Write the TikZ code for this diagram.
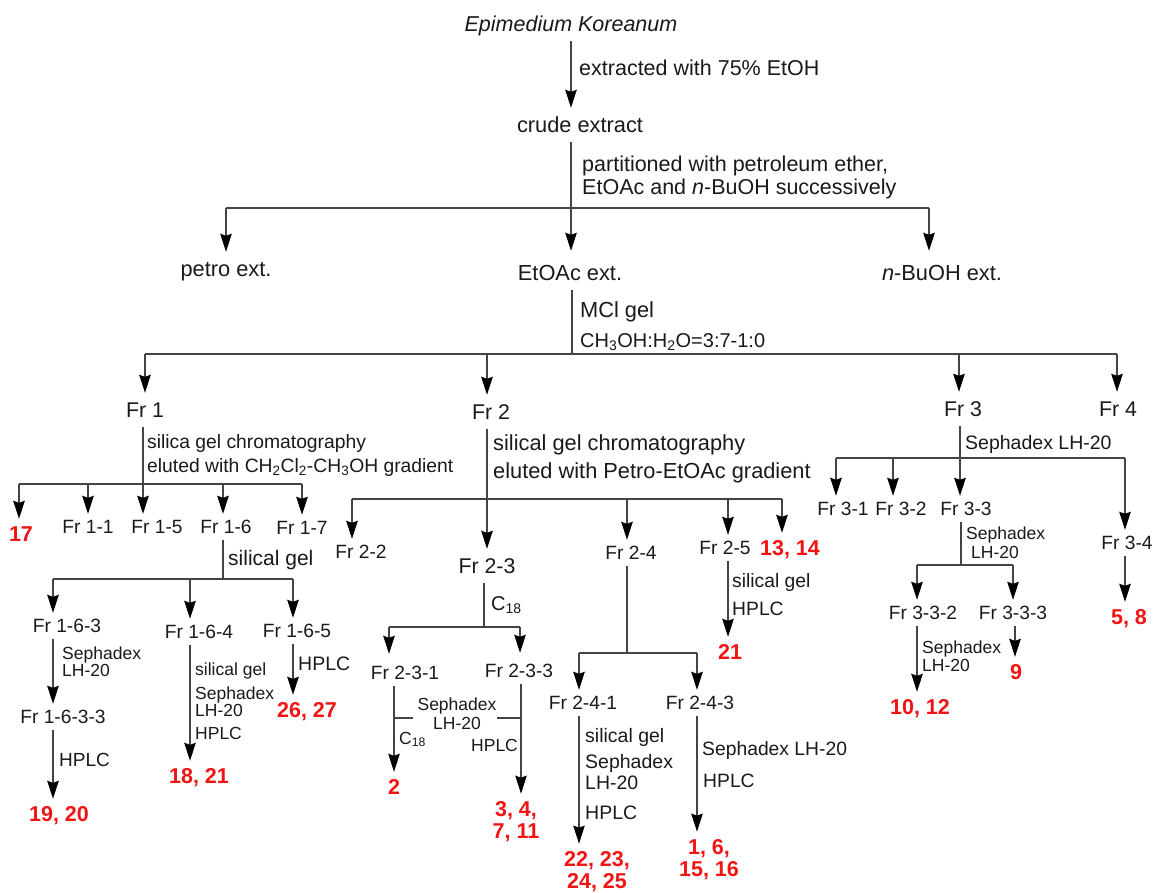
\documentclass[tikz,border=0pt]{standalone}
\usepackage{fontspec}
\setmainfont{Liberation Sans}
\usetikzlibrary{arrows.meta}
\definecolor{cred}{HTML}{F21414}
\definecolor{cline}{HTML}{444444}
\definecolor{ctext}{HTML}{1A1A1A}
\tikzset{
  base/.style={inner sep=0pt, text depth=0pt, text=ctext},
  big/.style={base, font=\fontsize{21.3}{24}\selectfont, text height=15.3pt, minimum height=34pt},
  sub/.style={base, font=\fontsize{19.2}{22}\selectfont, text height=13.8pt, minimum height=26pt},
  res/.style={base, text=cred, font=\bfseries\fontsize{21.5}{22}\selectfont, text height=15.4pt, minimum height=30pt},
  restwo/.style={inner xsep=0pt, inner ysep=8pt, align=center, text=cred, font=\bfseries\fontsize{21.5}{22}\selectfont},
  lab/.style={base, anchor=west, font=\fontsize{19.5}{22}\selectfont, text height=14pt},
  toplab/.style={base, anchor=west, font=\fontsize{21.5}{24}\selectfont, text height=15.4pt},
  wide/.style={base, anchor=west, font=\fontsize{21.8}{24}\selectfont, text height=15.6pt},
  small/.style={base, anchor=west, font=\fontsize{17.5}{20}\selectfont, text height=12.6pt},
  ln/.style={draw=cline, line width=1.3pt},
  arr/.style={ln, -{Stealth[length=18pt, width=11.5pt, inset=2pt, color=black]}},
}
\begin{document}
\begin{tikzpicture}[x=1pt, y=-1pt]
\useasboundingbox[fill=white] (0,0) rectangle (1156,893);

% ---------- top ----------
\node[big, font=\itshape\fontsize{21.5}{24}\selectfont] (epi) at (571,24) {Epimedium Koreanum};
\node[big, font=\fontsize{21.8}{24}\selectfont] (crude) at (580,125) {crude extract};
\node[big, font=\fontsize{21.8}{24}\selectfont] (petro) at (226,269) {petro ext.};
\node[big, font=\fontsize{21.8}{24}\selectfont] (etoac) at (570,273) {EtOAc ext.};
\node[big, font=\fontsize{21.8}{24}\selectfont] (nbuoh) at (942,273) {\textit{n}-BuOH ext.};
\node[toplab] (l1) at (579,68) {extracted with 75\% EtOH};
\node[toplab] (l2a) at (582,164) {partitioned with petroleum ether,};
\node[toplab] (l2b) at (582,187) {EtOAc and \textit{n}-BuOH successively};
\node[wide] (l3a) at (580,310) {MCl gel};
\node[lab, font=\fontsize{20}{22}\selectfont] (l3b) at (580,340) {CH\textsubscript{3}OH:H\textsubscript{2}O=3:7-1:0};

\draw[arr] (epi.south) -- ([xshift=-9pt]crude.north);
\draw[ln] ([xshift=-9pt]crude.south) -- (571,208);
\draw[ln] (226,208) -- (929,208);
\draw[arr] (226,208) -- (petro.north);
\draw[arr] (571,208) -- ([shift={(1,-5)}]etoac.north);
\draw[arr] (929,208) -- ([shift={(-13,-5)}]nbuoh.north);

% ---------- level Fr ----------
\node[big] (fr1) at (145,410) {Fr 1};
\node[big] (fr2) at (491,412) {Fr 2};
\node[big] (fr3) at (963,409) {Fr 3};
\node[big] (fr4) at (1118,409) {Fr 4};
\draw[ln] ([xshift=2pt]etoac.south) -- (572,354);
\draw[ln] (145,354) -- (1117,354);
\draw[arr] (145,354) -- (fr1.north);
\draw[arr] (487,354) -- ([xshift=-4pt]fr2.north);
\draw[arr] (959,354) -- ([xshift=-4pt]fr3.north);
\draw[arr] (1117,354) -- ([xshift=-1pt]fr4.north);

% ---------- Fr 1 ----------
\node[lab, font=\fontsize{19.3}{22}\selectfont] (l4a) at (147,441) {silica gel chromatography};
\node[lab, font=\fontsize{19.3}{22}\selectfont] (l4b) at (147,465) {eluted with CH\textsubscript{2}Cl\textsubscript{2}-CH\textsubscript{3}OH gradient};
\node[res] (c17) at (21,534) {17};
\node[sub] (fr11) at (88,527) {Fr 1-1};
\node[sub] (fr15) at (157,527) {Fr 1-5};
\node[sub] (fr16) at (226,527) {Fr 1-6};
\node[sub] (fr17) at (302,528) {Fr 1-7};
\draw[ln] ([xshift=-2pt]fr1.south) -- (143,484);
\draw[ln] (19,484) -- (302,484);
\draw[arr] (19,484) -- ([xshift=-2pt]c17.north);
\draw[arr] (88,484) -- (fr11.north);
\draw[arr] (143,484) -- ([xshift=-14pt]fr15.north);
\draw[arr] (223,484) -- ([xshift=-3pt]fr16.north);
\draw[arr] (302,484) -- (fr17.north);

\node[lab, font=\fontsize{21}{24}\selectfont] (l6) at (228,558) {silical gel};
\node[sub] (fr163) at (67,626) {Fr 1-6-3};
\node[sub] (fr164) at (199,632) {Fr 1-6-4};
\node[sub] (fr165) at (297,631) {Fr 1-6-5};
\node[sub] (fr1633) at (63,717) {Fr 1-6-3-3};
\node[res] (c1920) at (59,814) {19, 20};
\node[res] (c1821) at (199,776) {18, 21};
\node[res] (c2627) at (307,710) {26, 27};
\node[small] (l7a) at (62,653) {Sephadex};
\node[small] (l7b) at (62,670) {LH-20};
\node[lab, font=\fontsize{19}{22}\selectfont] (l8) at (59,759) {HPLC};
\node[small] (l9a) at (195,669) {silical gel};
\node[small] (l9b) at (195,693) {Sephadex};
\node[small] (l9c) at (195,710) {LH-20};
\node[small] (l9d) at (195,733) {HPLC};
\node[lab] (l10) at (298,663) {HPLC};
\draw[ln] ([xshift=-3pt]fr16.south) -- (223,579);
\draw[ln] (53,579) -- (293,579);
\draw[arr] (53,579) -- ([xshift=-14pt]fr163.north);
\draw[arr] (190,579) -- ([xshift=-9pt]fr164.north);
\draw[arr] (293,579) -- ([xshift=-4pt]fr165.north);
\draw[arr] ([xshift=-14pt]fr163.south) -- ([xshift=-10pt]fr1633.north);
\draw[arr] ([xshift=-10pt]fr1633.south) -- ([xshift=-6pt]c1920.north);
\draw[arr] ([xshift=-9pt]fr164.south) -- ([xshift=-9pt]c1821.north);
\draw[arr] ([xshift=-4pt]fr165.south) -- ([xshift=-14pt]c2627.north);

% ---------- Fr 2 ----------
\node[wide] (l5a) at (493,443) {silical gel chromatography};
\node[wide] (l5b) at (493,471) {eluted with Petro-EtOAc gradient};
\node[sub] (fr22) at (361,552) {Fr 2-2};
\node[big] (fr23) at (487,566) {Fr 2-3};
\node[sub] (fr24) at (631,553) {Fr 2-4};
\node[sub] (fr25) at (725,548) {Fr 2-5};
\node[res] (c1314) at (790,548) {13, 14};
\draw[ln] ([xshift=-4pt]fr2.south) -- (487,499);
\draw[ln] (352,499) -- (782,499);
\draw[arr] (352,499) -- ([xshift=-9pt]fr22.north);
\draw[arr] (487,499) -- (fr23.north);
\draw[arr] (627,499) -- ([xshift=-4pt]fr24.north);
\draw[arr] (728,499) -- ([xshift=3pt]fr25.north);
\draw[arr] (782,499) -- ([xshift=-8pt]c1314.north);

\node[lab, font=\fontsize{19.3}{22}\selectfont] (l14a) at (732,580) {silical gel};
\node[lab, font=\fontsize{19.3}{22}\selectfont] (l14b) at (732,608) {HPLC};
\node[res] (c21b) at (730,652) {21};
\draw[arr] ([xshift=3pt]fr25.south) -- ([xshift=-2pt]c21b.north);

% Fr 2-3
\node[lab, font=\fontsize{20}{22}\selectfont] (l11) at (491,603) {C\textsubscript{18}};
\node[sub] (fr231) at (405,673) {Fr 2-3-1};
\node[sub] (fr233) at (519,671) {Fr 2-3-3};
\node[small, anchor=center] (l12a) at (457,704) {Sephadex};
\node[small, anchor=center] (l12b) at (457,723) {LH-20};
\node[small] (l13a) at (399,738) {C\textsubscript{18}};
\node[small] (l13b) at (471,745) {HPLC};
\node[res] (c2) at (394,787) {2};
\node[restwo] (c3411) at (516,822) {3, 4,\\7, 11};
\draw[ln] ([xshift=-3pt]fr23.south) -- (484,627);
\draw[ln] (389,627) -- (520,627);
\draw[arr] (389,627) -- ([shift={(-16,-6)}]fr231.north);
\draw[arr] (520,627) -- ([shift={(1,-5)}]fr233.north);
\draw[arr] ([xshift=-11pt]fr231.south) -- (c2.north);
\draw[ln] (394,718) -- (413,718);
\draw[arr] ([xshift=2pt]fr233.south) -- ([xshift=5pt]c3411.north);
\draw[ln] (497,718) -- (521,718);

% Fr 2-4
\node[sub] (fr241) at (583,703) {Fr 2-4-1};
\node[sub] (fr243) at (700,703) {Fr 2-4-3};
\node[lab] (l15a) at (585,735) {silical gel};
\node[lab] (l15b) at (585,761) {Sephadex};
\node[lab] (l15c) at (585,782) {LH-20};
\node[lab] (l15d) at (585,812) {HPLC};
\node[lab, font=\fontsize{19.3}{22}\selectfont] (l16a) at (702,748) {Sephadex LH-20};
\node[lab, font=\fontsize{19.3}{22}\selectfont] (l16b) at (703,780) {HPLC};
\node[restwo] (c2225) at (597,872) {22, 23,\\24, 25};
\node[restwo] (c1616) at (709,860) {1, 6,\\15, 16};
\draw[ln] ([xshift=-4pt]fr24.south) -- (627,653);
\draw[ln] (579,653) -- (697,653);
\draw[arr] (579,653) -- ([xshift=-4pt]fr241.north);
\draw[arr] (697,653) -- ([xshift=-3pt]fr243.north);
\draw[arr] ([xshift=-4pt]fr241.south) -- ([xshift=-18pt]c2225.north);
\draw[arr] ([xshift=-3pt]fr243.south) -- ([xshift=-12pt]c1616.north);

% ---------- Fr 3 ----------
\node[lab] (l17) at (965,442) {Sephadex LH-20};
\node[sub] (fr31) at (843,509) {Fr 3-1};
\node[sub] (fr32) at (901,509) {Fr 3-2};
\node[sub] (fr33) at (966,509) {Fr 3-3};
\node[sub] (fr34) at (1127,543) {Fr 3-4};
\node[res] (c58) at (1129,617) {5, 8};
\draw[ln] ([xshift=-3pt]fr3.south) -- (960,458);
\draw[ln] (836,458) -- (1125,458);
\draw[arr] (836,458) -- ([xshift=-7pt]fr31.north);
\draw[arr] (893,458) -- ([xshift=-8pt]fr32.north);
\draw[arr] (960,458) -- ([xshift=-6pt]fr33.north);
\draw[arr] (1125,458) -- ([xshift=-2pt]fr34.north);
\draw[arr] ([xshift=-2pt]fr34.south) -- ([xshift=-4pt]c58.north);

\node[small] (l18a) at (966,533) {Sephadex};
\node[small] (l18b) at (971,552) {LH-20};
\node[sub] (fr332) at (923,613) {Fr 3-3-2};
\node[sub] (fr333) at (1013,613) {Fr 3-3-3};
\node[small] (l19a) at (922,647) {Sephadex};
\node[small] (l19b) at (922,665) {LH-20};
\node[res] (c1012) at (920,707) {10, 12};
\node[res] (c9) at (1016,672) {9};
\draw[ln] ([xshift=-5pt]fr33.south) -- (961,565);
\draw[ln] (917,565) -- (1013,565);
\draw[arr] (917,565) -- ([xshift=-6pt]fr332.north);
\draw[arr] (1013,565) -- (fr333.north);
\draw[arr] ([xshift=-6pt]fr332.south) -- ([xshift=-3pt]c1012.north);
\draw[arr] ([xshift=2pt]fr333.south) -- ([xshift=-1pt]c9.north);
\end{tikzpicture}
\end{document}
